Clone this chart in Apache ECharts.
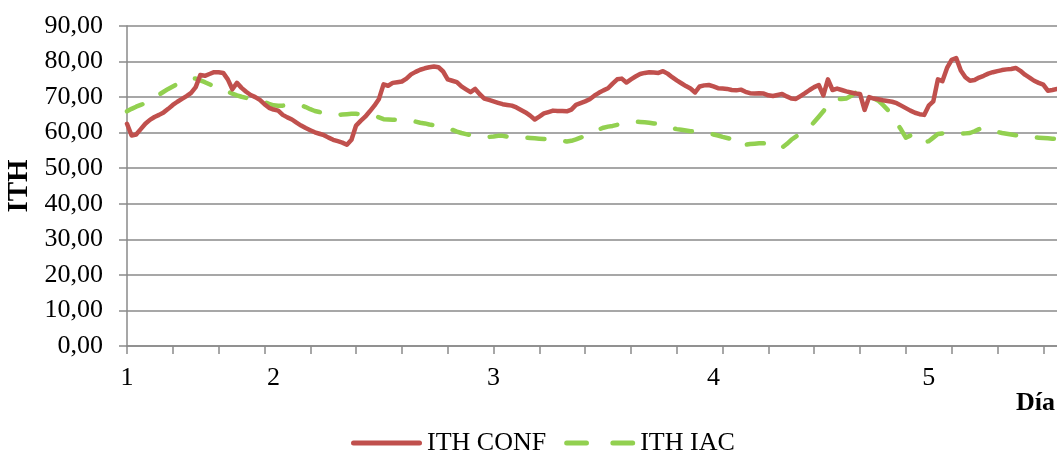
<!DOCTYPE html>
<html>
<head>
<meta charset="utf-8">
<script src="https://cdn.jsdelivr.net/npm/echarts@6/dist/echarts.min.js"></script>
<style>
  html, body { margin: 0; padding: 0; background: #ffffff; }
  #chart { width: 1057px; height: 453px; }
</style>
</head>
<body>
<div id="chart"></div>
<script>
// Half-hour steps from the first reading (hour 0 = start of day 1 data)
const hours = Array.from({ length: 204 }, (_, i) => String(i / 2));

// Day tick labels and the hour at which each day starts
const dayLabels = ['1', '2', '3', '4', '5'];
const dayStartHours = ['0', '16', '40', '64', '87.5'];

// ITH CONF (red, solid)
const ithConf = [
  62.5, 59.2, 59.5, 61, 62.5, 63.6, 64.4, 65, 65.7, 66.7,
  67.8, 68.7, 69.5, 70.3, 71.2, 72.8, 76.2, 76, 76.5, 77,
  77, 76.8, 75, 72.2, 74, 72.6, 71.5, 70.6, 70, 69.2,
  68, 67, 66.5, 66.2, 65, 64.3, 63.7, 62.8, 62, 61.3,
  60.7, 60.1, 59.7, 59.3, 58.6, 58, 57.6, 57.2, 56.6, 58,
  62, 63.3, 64.5, 66, 67.6, 69.5, 73.6, 73.2, 74, 74.2,
  74.4, 75.2, 76.4, 77.1, 77.7, 78.1, 78.4, 78.6, 78.4, 77.2,
  75, 74.6, 74.2, 73, 72.2, 71.4, 72.3, 70.8, 69.6, 69.2,
  68.8, 68.4, 68, 67.8, 67.6, 67.1, 66.4, 65.7, 64.8, 63.7,
  64.5, 65.4, 65.8, 66.2, 66.1, 66.1, 66, 66.5, 67.8, 68.3,
  68.8, 69.4, 70.4, 71.2, 71.9, 72.5, 73.8, 75, 75.2, 74.1,
  75, 75.8, 76.5, 76.8, 77, 76.9, 76.8, 77.3, 76.6, 75.6,
  74.7, 73.9, 73.1, 72.4, 71.3, 73, 73.3, 73.4, 73, 72.5,
  72.4, 72.3, 72, 71.9, 72.1, 71.5, 71.1, 71, 71.1, 71,
  70.5, 70.3, 70.6, 70.9, 70.2, 69.6, 69.5, 70.3, 71.1, 72,
  72.8, 73.4, 70.5, 75, 72, 72.4, 72, 71.6, 71.3, 71,
  70.9, 66.4, 70, 69.6, 69.4, 69.1, 68.9, 68.7, 68.3, 67.6,
  66.9, 66.2, 65.6, 65.2, 65, 67.6, 68.8, 75, 74.5, 78.2,
  80.5, 81, 77.5, 75.6, 74.6, 74.8, 75.5, 76, 76.6, 77,
  77.3, 77.6, 77.8, 77.9, 78.2, 77.4, 76.3, 75.5, 74.6, 74,
  73.5, 71.8, 72, 72.3
];

// ITH IAC (green, dashed)
const ithIac = [
  66, 66.7, 67.3, 67.8, 68.3, 69, 70, 70.7, 71.5, 72.3,
  73, 73.7, 74.3, 74.8, 75.2, 75.2, 74.7, 74.2, 73.6, 73,
  72.5, 72, 71.5, 71, 70.5, 70.1, 69.8, 69.5, 69.2, 69,
  68.6, 68.1, 67.7, 67.6, 67.6, 67.7, 67.8, 67.8, 67.7, 67.2,
  66.6, 66.1, 65.8, 65.5, 65.3, 65.1, 65, 65.1, 65.2, 65.3,
  65.3, 65.2, 65.1, 65, 64.8, 64.3, 63.8, 63.7, 63.6, 63.6,
  63.6, 63.5, 63.3, 63.1, 62.8, 62.6, 62.3, 62.1, 61.8, 61.6,
  61.3, 60.8, 60.3, 59.9, 59.6, 59.3, 59, 58.8, 58.7, 58.8,
  58.9, 59.1, 59.1, 58.9, 58.8, 58.7, 58.7, 58.6, 58.5, 58.4,
  58.3, 58.2, 58.1, 58, 58, 57.7, 57.5, 57.7, 58.1, 58.6,
  59.1, 59.7, 60.3, 60.9, 61.4, 61.7, 61.9, 62.2, 62.4, 62.7,
  63, 63.1, 63, 62.9, 62.8, 62.6, 62.5, 62.1, 61.7, 61.3,
  61, 60.8, 60.6, 60.4, 60.3, 60.1, 59.9, 59.7, 59.5, 59.2,
  58.8, 58.5, 58.2, 56.5, 56.3, 56.6, 56.8, 56.9, 57, 57,
  56.8, 56.2, 55.5, 55.8, 56.8, 58, 58.9, 59.7, 60.5, 61.5,
  63, 64.5, 66, 67.8, 69.2, 69.4, 69.5, 69.6, 70.3, 71.2,
  71.3, 70.8, 70.2, 69.6, 69, 67.8, 66.5, 64.8, 62.8, 60.8,
  58.6, 59.2, 59.6, 58.4, 57.3, 57.6, 58.6, 59.6, 59.8, 59.6,
  59.5, 59.6, 59.7, 59.8, 59.9, 60.4, 61, 61.4, 61.2, 60.7,
  60.2, 59.9, 59.7, 59.5, 59.3, 59.1, 58.9, 58.8, 58.7, 58.6,
  58.5, 58.4, 58.3, 58.2
];

const FONT = '"Liberation Serif", "Times New Roman", serif';
const GRAY = '#8a8a8a';
const RED = '#C0504D';
const GREEN = '#92D050';

// legend icons: a solid rounded bar and two rounded dashes
const ICON_SOLID = 'path://M2.5,0H68.5A2.5,2.5,0,0,1,68.5,5H2.5A2.5,2.5,0,0,1,2.5,0Z';
const ICON_DASH = 'path://M2.5,0H22.3A2.5,2.5,0,0,1,22.3,5H2.5A2.5,2.5,0,0,1,2.5,0Z' +
                  'M48.7,0H68.5A2.5,2.5,0,0,1,68.5,5H48.7A2.5,2.5,0,0,1,48.7,0Z';

const chart = echarts.init(document.getElementById('chart'), null, { renderer: 'canvas' });

chart.setOption({
  animation: false,
  backgroundColor: '#ffffff',
  textStyle: { fontFamily: FONT, color: '#000' },
  grid: { left: 127, right: 0, top: 26, bottom: 107, containLabel: false, outerBoundsMode: 'none' },
  legend: {
    data: [
      { name: 'ITH CONF', icon: ICON_SOLID },
      { name: 'ITH IAC', icon: ICON_DASH }
    ],
    left: 351,
    top: 430,
    padding: 0,
    itemWidth: 71,
    itemHeight: 5,
    itemGap: 18,
    textStyle: { fontFamily: FONT, fontSize: 26, color: '#000' }
  },
  xAxis: {
    type: 'category',
    data: hours,
    boundaryGap: false,
    name: 'Día',
    nameLocation: 'end',
    nameGap: 0,
    nameTextStyle: {
      fontFamily: FONT, fontSize: 26, fontWeight: 'bold', color: '#000',
      align: 'right', verticalAlign: 'top', padding: [44, 2, 0, 0]
    },
    axisLine: { show: true, lineStyle: { color: GRAY, width: 1.5 } },
    axisTick: {
      show: true, length: 8,
      interval: (i) => i % 10 === 0,
      lineStyle: { color: GRAY, width: 1.5 }
    },
    axisLabel: {
      interval: (i, v) => dayStartHours.indexOf(v) !== -1,
      formatter: (v) => dayLabels[dayStartHours.indexOf(v)] || '',
      margin: 19,
      fontFamily: FONT, fontSize: 26, color: '#000'
    },
    splitLine: { show: false }
  },
  yAxis: {
    type: 'value',
    min: 0,
    max: 90,
    interval: 10,
    name: 'ITH',
    nameLocation: 'middle',
    nameGap: 87,
    nameTextStyle: { fontFamily: FONT, fontSize: 29, fontWeight: 'bold', color: '#000' },
    axisLine: { show: true, lineStyle: { color: GRAY, width: 1.5 } },
    axisTick: { show: true, length: 8, lineStyle: { color: GRAY, width: 1.5 } },
    axisLabel: {
      margin: 24,
      fontFamily: FONT, fontSize: 26, color: '#000',
      formatter: (v) => v.toFixed(2).replace('.', ',')
    },
    splitLine: { show: true, lineStyle: { color: GRAY, width: 1.5 } }
  },
  series: [
    {
      name: 'ITH CONF',
      type: 'line',
      data: ithConf,
      symbol: 'none',
      showSymbol: false,
      itemStyle: { color: RED },
      lineStyle: { color: RED, width: 4.5, cap: 'round', join: 'round' },
      z: 3
    },
    {
      name: 'ITH IAC',
      type: 'line',
      data: ithIac,
      symbol: 'none',
      showSymbol: false,
      itemStyle: { color: GREEN },
      lineStyle: { color: GREEN, width: 4.5, type: [17, 21], cap: 'round', join: 'round' },
      z: 2
    }
  ]
});
</script>
</body>
</html>
